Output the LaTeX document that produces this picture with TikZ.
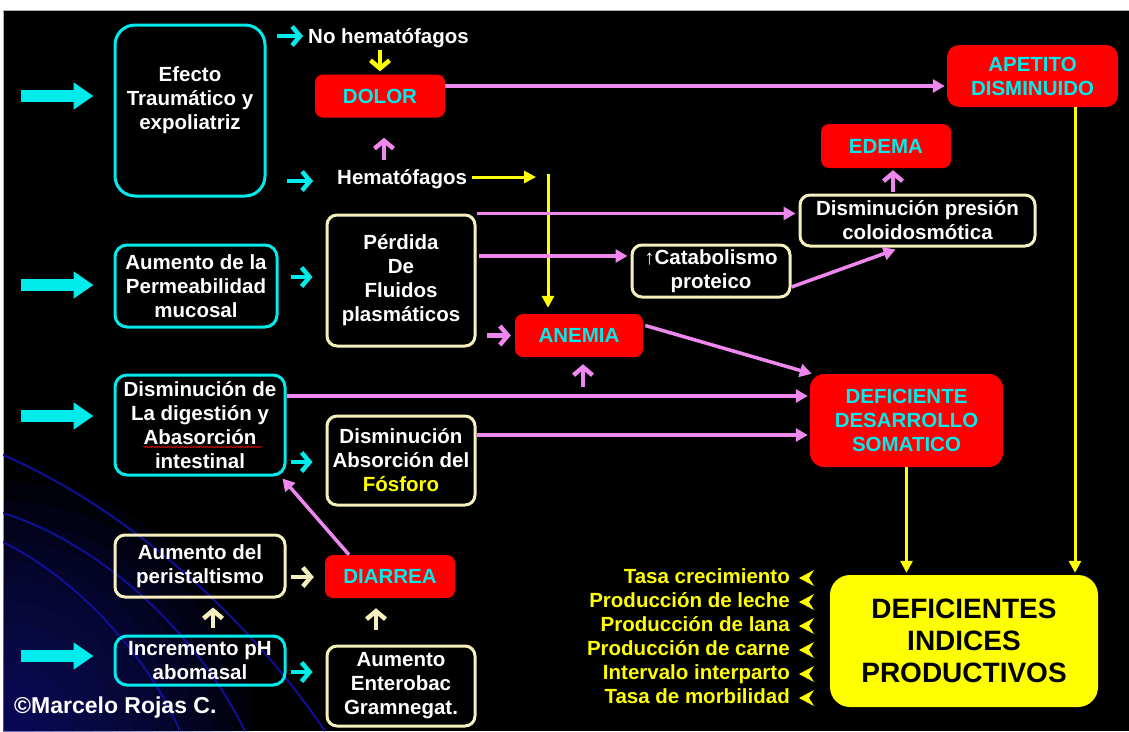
\documentclass[tikz,border=0pt]{standalone}
\usepackage{fontspec}
\setmainfont{Liberation Sans}
\usetikzlibrary{arrows.meta, positioning, calc, decorations.pathmorphing}
\definecolor{cyanb}{RGB}{0,235,235}
\definecolor{cream}{RGB}{245,240,190}
\definecolor{pinkl}{RGB}{238,135,238}
\definecolor{redb}{RGB}{255,0,0}
\definecolor{yel}{RGB}{255,255,0}
\definecolor{navyl}{RGB}{15,15,150}
\definecolor{navyg}{RGB}{20,20,140}

\begin{document}
\begin{tikzpicture}[
  x=1pt, y=-1pt,
  txt/.style={text=white, font=\bfseries\fontsize{20.5}{24}\selectfont, align=center, inner sep=0pt},
  cybox/.style={txt, draw=cyanb, line width=3pt, rounded corners=12pt},
  crbox/.style={txt, draw=cream, line width=3pt, rounded corners=10pt},
  rdbox/.style={txt, fill=redb, text=cyanb, rounded corners=8pt},
  pinkln/.style={draw=pinkl, line width=3.5pt, -{Triangle[length=12pt,width=13pt]}},
  yelln/.style={draw=yel, line width=3pt, -{Triangle[length=12pt,width=12pt]}},
  stub/.style={line width=4.5pt, -{Straight Barb[length=8pt,width=19pt]}},
  bigarrow/.style={draw=cyanb, line width=12pt, -{Triangle[length=20pt,width=26pt]}},
  listxt/.style={txt, text=yel, font=\bfseries\fontsize{20.5}{24}\selectfont, text height=14pt, text depth=4pt}
  ]
  \useasboundingbox (0,0) rectangle (1129,731);
  \fill[white] (0,0) rectangle (1129,731);
  \fill[black] (3,10) rectangle (1129,731);
  \draw[gray!60, line width=0.8pt] (3,731) -- (3,10) -- (1129,10);
  % corner glow and arcs
  \begin{scope}
    \clip (3,10) rectangle (1129,731);
    \foreach \r in {250,230,...,30}
      \fill[navyg, opacity=0.08] (3,731) circle (\r);
    \draw[navyl, line width=2pt] (3,455) .. controls (130,510) and (250,620) .. (325,731);
    \draw[navyl, line width=2pt] (3,513) .. controls (90,540) and (190,620) .. (245,731);
    \draw[navyl, line width=2pt] (3,542) .. controls (80,580) and (150,660) .. (180,731);
  \end{scope}

  % causes
  \node[cybox, rounded corners=20pt, minimum width=150pt, minimum height=171pt] (efecto) at (190,110.5) {Efecto\\Traumático y\\expoliatriz\\\mbox{}};
  \node[cybox, minimum width=162pt, minimum height=82pt] (perm) at (196,286) {Aumento de la\\Permeabilidad\\mucosal};
  \node[cybox, minimum width=170pt, minimum height=100pt] (dig) at (200,425) {Disminución de\\La digestión y\\Abasorción\\intestinal};
  \node[crbox, minimum width=170pt, minimum height=62pt] (peri) at (200,566) {Aumento del\\peristaltismo};
  \node[cybox, minimum width=170pt, minimum height=49pt] (incr) at (200,660.5) {Incremento pH\\abomasal};
  \draw[red, line width=0.6pt, decorate, decoration={snake, amplitude=0.8pt, segment length=3pt}] ($(dig.center)+(-57,22)$) -- ($(dig.center)+(62,22)$);

  \foreach \n/\dy in {efecto/-14.5, perm/-1, dig/-9, incr/-4.5}
    \draw[bigarrow] ($(\n.west)+(-93,\dy)$) -- ($(\n.west)+(-20,\dy)$);

  % middle column
  \node[txt, anchor=west] (nohem) at (308,38) {No hematófagos};
  \node[rdbox, minimum width=130pt, minimum height=43pt] (dolor) at (380,96) {DOLOR};
  \node[txt, anchor=west] (hemat) at (337,179) {Hematófagos};
  \node[crbox, minimum width=148pt, minimum height=131pt] (perd) at (401,280.5) {Pérdida\\De\\Fluidos\\plasmáticos};
  \node[crbox, minimum width=148pt, minimum height=89pt] (absP) at (401,460.5) {Disminución\\Absorción del\\\textcolor{yel}{Fósforo}};
  \node[rdbox, minimum width=130pt, minimum height=43pt] (diarrea) at (390,576.5) {DIARREA};
  \node[crbox, minimum width=148pt, minimum height=80pt] (entero) at (401,686) {Aumento\\Enterobac\\Gramnegat.};
  \node[rdbox, minimum width=128pt, minimum height=43pt] (anemia) at (579,335.5) {ANEMIA};
  \node[crbox, minimum width=158pt, minimum height=52pt] (catab) at (711,271) {\textuparrow Catabolismo\\proteico};

  % right column
  \node[rdbox, rounded corners=12pt, minimum width=171pt, minimum height=62pt] (apetito) at (1032.5,76) {APETITO\\DISMINUIDO};
  \node[rdbox, minimum width=130pt, minimum height=44pt] (edema) at (886,146) {EDEMA};
  \node[crbox, minimum width=235pt, minimum height=51pt] (presion) at (917.5,220.5) {Disminución presión\\coloidosmótica};
  \node[rdbox, rounded corners=14pt, minimum width=193pt, minimum height=93pt] (desarrollo) at (906.5,420.5) {DEFICIENTE\\DESARROLLO\\SOMATICO};
  \node[fill=yel, rounded corners=20pt, minimum width=268pt, minimum height=132pt, inner sep=0pt, align=center, font=\bfseries\fontsize{28}{32}\selectfont] (indices) at (964,641) {DEFICIENTES\\INDICES\\PRODUCTIVOS};
  \node[txt, anchor=west, font=\bfseries\fontsize{23}{24}\selectfont] (author) at (14,708) {©Marcelo Rojas C.};

  \foreach \t [count=\i] in {Tasa crecimiento, Producción de leche, Producción de lana, Producción de carne, Intervalo interparto, Tasa de morbilidad}{
    \node[listxt, anchor=east] (ind\i) at (790,{554+24*\i}) {\t};
    \fill[yel] ($(ind\i.east)+(24,-8)$) -- ($(ind\i.east)+(9,0)$) -- ($(ind\i.east)+(24,8)$) -- ($(ind\i.east)+(19,0)$) -- cycle;
  }

  % short arrows
  \draw[stub, cyanb] ($(nohem.west)+(-31,-2)$) -- ($(nohem.west)+(-5,-2)$);
  \draw[stub, yel] ($(dolor.north)+(0,-24)$) -- ($(dolor.north)+(0,-3)$);
  \draw[stub, pinkl] ($(dolor.south)+(4,42)$) -- ($(dolor.south)+(4,20)$);
  \draw[stub, cyanb] ($(hemat.west)+(-50,2)$) -- ($(hemat.west)+(-24,2)$);
  \draw[stub, cyanb] ($(perm.east)+(12,-9)$) -- ($(perd.west)+(-13,-3.5)$);
  \draw[stub, pinkl] ($(anemia.west)+(-28,0)$) -- ($(anemia.west)+(-4,0)$);
  \draw[stub, pinkl] ($(anemia.south)+(4,30)$) -- ($(anemia.south)+(4,7)$);
  \draw[stub, pinkl] ($(edema.south)+(7,24)$) -- ($(edema.south)+(7,2)$);
  \draw[stub, cyanb] ($(dig.east)+(4,37)$) -- ($(absP.west)+(-13,1.5)$);
  \draw[stub, cream] ($(peri.east)+(4,11)$) -- ($(diarrea.west)+(-11,0.5)$);
  \draw[stub, cream] ($(incr.north)+(13,-7)$) -- ($(peri.south)+(13,9)$);
  \draw[stub, cream] ($(entero.north)+(-25,-15)$) -- ($(diarrea.south)+(-14,10)$);
  \draw[stub, cyanb] ($(incr.east)+(4,11.5)$) -- ($(entero.west)+(-13,-14)$);

  % connectors
  \coordinate (yj) at (548,174);
  \draw[pinkln] ($(dolor.east)+(0,-10)$) -- ($(apetito.west)+(-2,10)$);
  \draw[yelln] ($(hemat.east)+(5,-2)$) -- ($(yj)+(-12,3)$);
  \draw[yelln] (yj) -- ($(yj |- anemia.north)+(0,-6)$);
  \draw[pinkln] (perd.north east) -- ($(perd.north east -| presion.west)+(-3,0)$);
  \draw[pinkln] ($(perd.east)+(2,-24.5)$) -- ($(catab.west)+(-3,-15)$);
  \draw[pinkln] ($(catab.east)+(0,16)$) -- ($(presion.south)+(-22,2)$);
  \draw[pinkln] ($(anemia.east)+(2,-10)$) -- ($(desarrollo.north west)+(2,0)$);
  \draw[pinkln] ($(dig.east)+(0,-29)$) -- ($(desarrollo.west)+(-2,-24.5)$);
  \draw[pinkln] ($(absP.east)+(0,-25.5)$) -- ($(desarrollo.west)+(-2,14.5)$);
  \draw[pinkln] ($(diarrea.north)+(-41,0)$) -- ($(dig.south east)+(-4,2)$);
  \draw[yelln] (desarrollo.south) -- ($(desarrollo.south |- indices.north)+(0,-2)$);
  \draw[yelln] ($(apetito.south)+(42.5,0)$) -- ($(indices.north)+(111,-2)$);
\end{tikzpicture}
\end{document}
